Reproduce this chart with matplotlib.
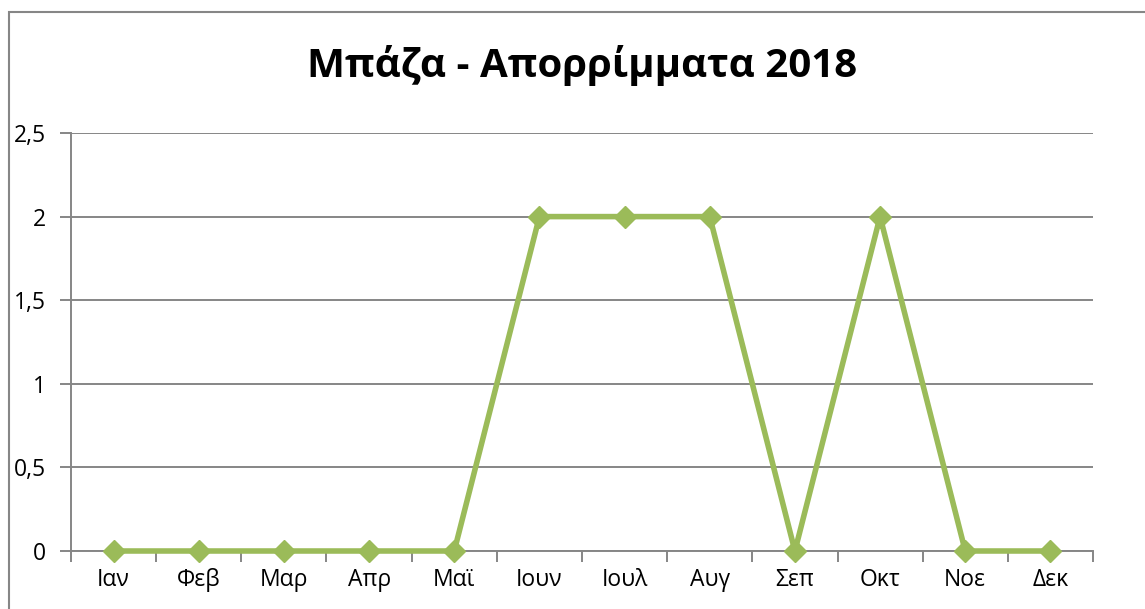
import matplotlib.pyplot as plt
from matplotlib.patches import Rectangle
import numpy as np

months = ['Ιαν', 'Φεβ', 'Μαρ', 'Απρ', 'Μαϊ', 'Ιουν', 'Ιουλ', 'Αυγ', 'Σεπ', 'Οκτ', 'Νοε', 'Δεκ']
values = [0, 0, 0, 0, 0, 2, 2, 2, 0, 2, 0, 0]
yticks = [0, 0.5, 1, 1.5, 2, 2.5]
ylabels = ['0', '0,5', '1', '1,5', '2', '2,5']

plt.rcParams['font.family'] = ['Open Sans', 'DejaVu Sans']

W, H = 1145, 609
fig = plt.figure(figsize=(W / 100, H / 100), dpi=100)
ax = fig.add_axes([71 / W, (H - 551) / H, (1093 - 71) / W, (551 - 133) / H])

grid_c = '#868686'
x = np.arange(len(months))
ax.plot(x, values, color='#9BBB59', linewidth=4, marker='D', markersize=11,
        markeredgecolor='#9BBB59', markerfacecolor='#9BBB59', zorder=3, clip_on=False)

ax.set_xlim(-0.5, len(months) - 0.5)
ax.set_ylim(0, 2.5)
ax.set_yticks(yticks)
ax.set_yticklabels(ylabels)
ax.set_xticks(x)
ax.set_xticklabels(months)
ax.set_xticks(np.arange(-0.5, len(months)), minor=True)
ax.tick_params(axis='x', which='major', length=0, pad=12, labelsize=16.5)
ax.tick_params(axis='x', which='minor', length=8, width=1.4, color=grid_c, direction='out')
ax.tick_params(axis='y', length=8, width=1.4, color=grid_c, pad=10, labelsize=16.5)

ax.grid(axis='y', color=grid_c, linewidth=1.4)
ax.set_axisbelow(True)
for s in ['top', 'right']:
    ax.spines[s].set_visible(False)
for s in ['left', 'bottom']:
    ax.spines[s].set_color(grid_c)
    ax.spines[s].set_linewidth(1.4)

fig.text(582 / W, 1 - 66 / H, 'Μπάζα - Απορρίμματα 2018', ha='center', va='center',
         fontsize=29, fontweight='bold')

# outer chart border (cut off at right and bottom)
fig.patches.append(Rectangle((9 / W, -0.1), 1.2, 1 - 12 / H + 0.1, transform=fig.transFigure,
                             fill=False, edgecolor=grid_c, linewidth=1.5))

fig.savefig('out.png', dpi=100)
